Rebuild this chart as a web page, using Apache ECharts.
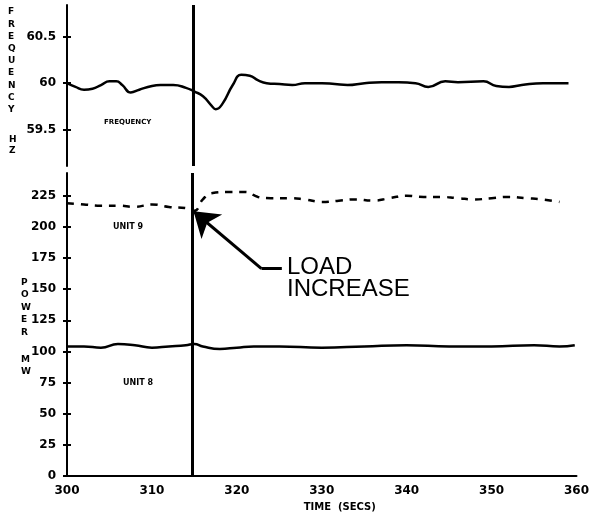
<!DOCTYPE html>
<html>
<head>
<meta charset="utf-8">
<script src="https://cdn.jsdelivr.net/npm/echarts@6/dist/echarts.min.js"></script>
<style>
html,body{margin:0;padding:0;background:#fff;}
#c{width:592px;height:517px;}
</style>
</head>
<body>
<div id="c"></div>
<script>
// ---- data ----
const freqTime = [300, 301, 302, 303, 304, 305, 305.8, 306.5, 307.5, 308.5, 310, 311, 312.5, 314, 315, 316, 317, 317.5, 318.3, 319.5, 320.5, 321.5, 322.5, 323.5, 325, 326.5, 328, 330, 331.5, 333, 335, 337, 339, 341, 342.5, 344.5, 346, 349, 350.5, 352, 353.5, 356, 359];
const freqHz   = [60.00, 59.96, 59.93, 59.94, 59.98, 60.02, 60.02, 59.98, 59.90, 59.93, 59.97, 59.98, 59.98, 59.95, 59.91, 59.86, 59.76, 59.72, 59.78, 59.98, 60.09, 60.08, 60.03, 60.00, 59.99, 59.98, 60.00, 60.00, 59.99, 59.98, 60.00, 60.01, 60.01, 60.00, 59.96, 60.02, 60.01, 60.02, 59.97, 59.96, 59.98, 60.00, 60.00];

const unit9Time = [300, 302, 304, 306, 308, 310, 312, 314, 315, 316, 317, 319, 321, 322.5, 324, 326, 328, 330, 332, 334, 336, 338, 340, 342, 344, 346, 348, 350, 352, 354, 356, 358];
const unit9MW   = [219, 218, 217, 217, 216, 218, 216, 215, 213, 222, 227, 228, 228, 224, 223, 223, 222, 220, 221, 222, 221, 223, 225, 224, 224, 223, 222, 223, 224, 223, 222, 220];

const unit8Time = [300, 302, 304, 306, 308, 310, 312, 314, 315, 316, 318, 320, 322, 325, 330, 335, 340, 345, 350, 355, 358, 359.8];
const unit8MW   = [104, 104, 103, 106, 105, 103, 104, 105, 106, 104, 102, 103, 104, 104, 103, 104, 105, 104, 104, 105, 104, 105];

const loadIncreaseTime = 314.8;
const arrowTip = [314.9, 212.5];
const arrowElbow = [322.9, 166.4];
const arrowEnd = [325.3, 166.4];

const freqTicks  = [59.5, 60, 60.5];
const powerTicks = [0, 25, 50, 75, 100, 125, 150, 175, 200, 225];
const timeTicks  = [300, 310, 320, 330, 340, 350, 360];

const zip = (a, b) => a.map((v, i) => [v, b[i]]);

const labelFont = {color: '#000', fontWeight: 'bold', fontSize: 12, fontFamily: 'DejaVu Sans'};
const blk = '#000';

function yAxisPair(grid, min, max, ticks, fmt) {
  return [
    {
      gridIndex: grid, type: 'value', min: min, max: max, position: 'left',
      axisLine: {show: true, lineStyle: {color: blk, width: 2}},
      axisTick: {show: true, customValues: ticks, length: 4, lineStyle: {color: blk, width: 2}},
      axisLabel: Object.assign({customValues: ticks, margin: 11, formatter: fmt}, labelFont),
      splitLine: {show: false}
    },
    {
      gridIndex: grid, type: 'value', min: min, max: max, position: 'left',
      axisLine: {show: false},
      axisTick: {show: true, inside: true, customValues: ticks, length: 4, lineStyle: {color: blk, width: 2}},
      axisLabel: {show: false},
      splitLine: {show: false}
    }
  ];
}

const chart = echarts.init(document.getElementById('c'), null, {renderer: 'canvas'});
const option = {
  animation: false,
  backgroundColor: '#fff',
  grid: [
    {left: 67, width: 510, top: 5, height: 161},
    {left: 67, width: 510, top: 173, height: 304}
  ],
  xAxis: [
    {gridIndex: 0, type: 'value', min: 300, max: 360, show: false},
    {
      gridIndex: 1, type: 'value', min: 300, max: 360, interval: 10,
      axisLine: {show: true, lineStyle: {color: blk, width: 2}},
      axisTick: {show: false},
      splitLine: {show: false},
      axisLabel: Object.assign({margin: 9}, labelFont),
      name: 'TIME  (SECS)', nameLocation: 'middle', nameGap: 26,
      nameTextStyle: {color: '#000', fontWeight: 'bold', fontSize: 10, fontFamily: 'DejaVu Sans', padding: [0, 0, 0, 36]}
    }
  ],
  yAxis: [].concat(
    yAxisPair(0, 59.11, 60.84, freqTicks, v => (v === 60 ? '60' : String(v))),
    yAxisPair(1, 0, 243.2, powerTicks, v => String(v))
  ),
  series: [
    {
      type: 'line', name: 'FREQUENCY', xAxisIndex: 0, yAxisIndex: 0,
      data: zip(freqTime, freqHz), smooth: 0.5, showSymbol: false,
      lineStyle: {color: blk, width: 2.5},
      markLine: {
        silent: true, symbol: 'none', label: {show: false},
        lineStyle: {color: blk, width: 3, type: 'solid'},
        data: [{xAxis: loadIncreaseTime}]
      }
    },
    {
      type: 'line', name: 'UNIT 9', xAxisIndex: 1, yAxisIndex: 2,
      data: zip(unit9Time, unit9MW), smooth: 0.5, showSymbol: false,
      lineStyle: {color: blk, width: 2.5, type: [7, 7]},
      markLine: {
        silent: true, label: {show: false},
        lineStyle: {color: blk, width: 3, type: 'solid'},
        data: [
          [{coord: arrowEnd, symbol: 'none'}, {coord: arrowElbow, symbol: 'none'}],
          [{coord: arrowElbow, symbol: 'none'}, {coord: arrowTip, symbol: 'arrow', symbolSize: 24}]
        ]
      }
    },
    {
      type: 'line', name: 'UNIT 8', xAxisIndex: 1, yAxisIndex: 2,
      data: zip(unit8Time, unit8MW), smooth: 0.5, showSymbol: false,
      lineStyle: {color: blk, width: 2.5},
      markLine: {
        silent: true, symbol: 'none', label: {show: false},
        lineStyle: {color: blk, width: 3, type: 'solid'},
        data: [{xAxis: loadIncreaseTime}]
      }
    }
  ],
  graphic: [
    {type: 'text', left: 8, top: 6, style: {text: 'F\nR\nE\nQ\nU\nE\nN\nC\nY', font: 'bold 9px "DejaVu Sans"', lineHeight: 12.2, fill: '#000', align: 'center'}},
    {type: 'text', left: 9, top: 134, style: {text: 'H\nZ', font: 'bold 9px "DejaVu Sans"', lineHeight: 11, fill: '#000', align: 'center'}},
    {type: 'text', left: 21, top: 276, style: {text: 'P\nO\nW\nE\nR', font: 'bold 9px "DejaVu Sans"', lineHeight: 12.5, fill: '#000', align: 'center'}},
    {type: 'text', left: 21, top: 354, style: {text: 'M\nW', font: 'bold 9px "DejaVu Sans"', lineHeight: 12, fill: '#000', align: 'center'}},
    {type: 'text', left: 104, top: 119, style: {text: 'FREQUENCY', font: 'bold 7px "DejaVu Sans"', fill: '#000'}},
    {type: 'text', left: 113, top: 223, style: {text: 'UNIT 9', font: 'bold 8px "DejaVu Sans"', fill: '#000'}},
    {type: 'text', left: 123, top: 379, style: {text: 'UNIT 8', font: 'bold 8px "DejaVu Sans"', fill: '#000'}},
    {type: 'text', left: 287, top: 255, style: {text: 'LOAD\nINCREASE', font: '24px "Liberation Sans"', lineHeight: 22, fill: '#000'}}
  ]
};
chart.setOption(option);
</script>
</body>
</html>
